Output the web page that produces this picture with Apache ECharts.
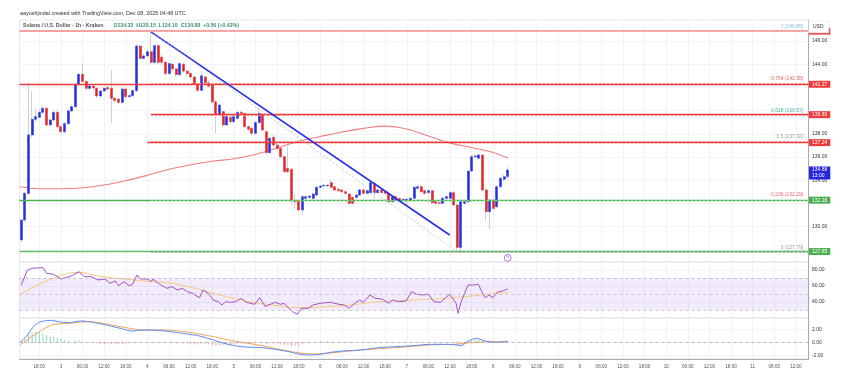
<!DOCTYPE html>
<html><head><meta charset="utf-8">
<script src="https://cdn.jsdelivr.net/npm/echarts@6/dist/echarts.min.js"></script>
<style>html,body{margin:0;padding:0;background:#fff}#c{width:855px;height:379px}</style>
</head><body><div id="c"></div>
<script>
// Time unit: hours since 2025-12-03 00:00 UTC. One candle per hour.
const candleStartHour = -11;
const opens = [
128.85,130.57,132.87,137.90,139.25,139.42,139.85,140.20,138.76,139.19,139.85,
138.62,138.18,138.87,139.97,140.34,142.27,143.13,142.50,141.92,142.10,
141.92,141.26,141.69,141.98,141.92,141.06,141.00,140.71,141.86,141.20,
141.29,141.72,145.57,144.50,144.71,145.08,144.16,145.60,144.60,144.16,
143.20,144.00,143.60,143.10,144.00,143.40,143.20,142.90,142.30,141.75,
142.90,142.40,142.20,140.75,139.68,139.91,138.76,139.42,139.05,139.33,
139.85,139.76,138.62,138.47,138.04,138.96,139.62,138.18,136.37,137.70,
137.03,136.75,136.03,135.02,134.94,132.24,132.15,131.43,132.44,132.52,
132.44,132.72,133.39,133.50,133.50,133.79,133.44,133.21,133.15,133.01,
132.81,132.52,132.52,132.72,133.16,132.87,132.93,133.73,132.93,133.16,
133.01,132.87,132.15,132.58,132.44,132.29,132.29,132.29,132.44,133.30,
133.44,133.10,132.93,133.10,132.15,132.06,132.01,132.44,132.44,132.93,
131.86,128.21,132.01,132.15,134.79,136.03,135.89,136.17,133.16,131.29,
132.29,131.72,133.44,134.08,134.32];
const closes = [
130.57,132.87,137.90,139.25,139.48,139.85,140.20,138.76,139.19,139.85,138.62,
138.18,138.87,139.97,140.34,142.27,143.13,142.50,141.92,142.12,141.95,
141.26,141.69,141.92,141.86,141.06,140.88,140.71,141.86,141.20,141.29,
141.72,145.57,144.50,144.71,145.08,144.16,145.60,144.16,144.16,143.20,
144.05,143.60,143.10,144.05,143.40,143.20,142.90,142.30,141.75,143.00,
142.40,142.10,140.75,139.65,140.48,138.76,139.48,139.05,139.48,139.85,
139.76,138.62,138.39,138.04,138.96,139.76,138.33,136.37,137.61,137.03,
136.75,136.03,134.74,134.74,132.24,132.15,131.43,132.58,132.58,132.64,
132.81,133.39,133.50,133.56,133.56,133.39,133.15,133.10,133.01,132.87,
132.00,132.01,132.72,133.16,132.87,133.10,133.79,132.93,133.16,132.93,
132.87,132.15,132.58,132.29,132.29,132.35,132.35,132.44,133.39,133.44,
133.01,132.87,133.10,132.06,132.01,132.01,132.44,132.58,132.93,131.86,
128.21,132.15,132.15,134.79,136.03,136.09,136.17,133.16,131.29,132.29,
131.57,133.44,134.16,134.30,134.88];
const lows = [
128.70,130.45,132.70,137.70,139.05,139.30,139.70,138.60,138.60,139.10,138.50,
138.04,138.00,138.80,139.90,140.20,142.10,142.40,141.80,141.80,141.80,
141.10,141.10,141.60,141.70,138.90,140.70,140.60,140.60,141.00,141.10,
141.20,141.60,144.40,144.40,144.60,144.00,144.00,144.00,143.90,143.00,
143.10,143.40,142.90,143.00,143.30,143.00,142.70,142.20,141.60,141.70,
142.30,142.00,140.60,138.04,139.60,138.60,138.70,138.90,138.95,139.25,
139.60,138.50,138.25,137.90,137.95,138.90,138.20,136.20,136.30,136.90,
136.60,135.90,134.60,134.60,131.86,131.50,131.30,131.00,132.30,132.40,
132.35,132.60,133.30,133.40,133.40,133.30,133.05,133.00,132.90,132.75,
131.90,131.90,132.40,132.65,132.80,132.80,132.85,132.40,132.85,132.85,
132.80,132.05,132.10,132.20,132.20,132.20,131.90,132.20,132.35,133.20,
132.95,132.75,132.85,131.95,131.90,131.85,131.95,132.35,132.40,131.75,
127.79,127.85,131.90,132.05,134.70,135.90,135.80,133.00,130.50,129.77,
131.40,131.60,133.30,133.95,134.10];
const highs = [
130.65,133.00,142.40,141.70,140.10,140.00,140.40,140.30,139.30,140.00,140.00,
138.70,139.00,140.10,140.50,142.40,143.20,144.07,142.60,142.30,142.20,
142.00,141.80,142.00,142.10,143.50,141.20,141.10,142.00,141.95,141.40,
141.80,145.70,145.65,144.90,145.20,146.85,145.70,145.70,144.80,144.30,
144.15,144.10,143.70,144.15,144.10,143.50,143.30,143.00,142.40,143.40,
143.00,142.60,142.30,140.90,140.60,140.00,139.60,139.55,139.60,139.95,
140.00,139.85,138.70,138.60,139.10,140.20,139.70,138.33,137.80,137.90,
137.20,136.85,136.10,136.90,135.10,132.80,132.30,132.70,132.70,132.75,
132.95,133.50,133.60,133.70,133.65,134.10,133.55,133.30,133.25,133.10,
132.90,132.60,132.80,133.25,133.25,133.20,133.90,133.80,133.25,133.25,
133.10,132.95,132.65,132.65,132.50,132.45,132.45,132.55,133.50,133.60,
133.55,133.20,133.20,133.15,132.20,132.15,132.55,132.70,133.05,133.05,
132.00,132.30,132.30,134.90,136.15,136.25,136.30,136.25,133.30,132.40,
132.40,133.55,134.30,134.45,135.15];

// 100-period moving average (read every 6 hours)
const maHours  = [-11.5,-6,0,6,12,18,24,30,36,42,48,54,60,66,72,78,84,90,96,102,108,114,120,124];
const maValues = [133.43,133.27,133.27,133.35,133.59,133.96,134.42,134.94,135.33,135.64,135.85,136.22,136.78,137.36,137.77,138.16,138.47,138.66,138.41,137.81,137.21,136.82,136.39,135.91];

// RSI(14) and its moving average
const rsiHours  = [-11,-9.3,-7.9,-5,-4,-2,0,1.2,3.1,5,6.5,8.4,10.3,12.2,13.6,15.1,16,17.5,18.9,19.9,21.1,22,24.1,25.1,25.6,27,29.4,30.8,32.3,33.7,35.1,36.6,37.5,38.5,39.4,40.9,42.3,43.7,44.7,45.7,47.1,48.5,50,51.4,53.8,55.2,56.7,58.1,59.5,60.9,61.9,63.3,64.3,65.7,66.7,68.6,70,71.9,74.8,77.2,78.6,80,81.5,82.9,83.9,85.8,87.2,89.1,91,92,93.9,95.8,97.3,98.7,100.6,102,103.5,105.4,106.8,107.8,108.7,109.7,110.2,111.1,113,114.5,115.9,116.8,117.8,118.8,119.9,121.1,122.6,124];
const rsiValues = [61.3,80.0,82.1,82.9,75.8,74.6,68.8,70.4,72.9,77.9,71.7,71.7,67.5,68.8,63.3,66.3,60.4,65.4,60.4,62.1,73.8,68.8,68.8,65.4,68.8,63.3,57.1,59.2,55.0,57.1,52.9,50.8,47.9,45.4,55.0,50.8,42.5,40.4,36.3,40.4,39.6,40.4,44.6,39.6,37.1,45.4,34.2,37.1,39.6,37.1,38.3,32.1,27.9,24.6,32.1,32.1,36.3,38.3,39.6,37.1,36.3,32.1,38.3,42.5,39.6,48.8,44.6,43.8,38.3,42.5,40.4,41.3,52.9,49.6,48.8,49.6,40.4,39.6,45.4,49.6,44.6,38.3,25.8,40.4,61.3,61.3,62.1,52.9,45.4,48.8,45.4,52.1,53.8,56.3];
const rsiMaHours  = [-11.4,-7.4,-2.6,0.3,5,9.8,15.5,23.2,30.8,36.6,42.3,50,58.6,66.2,73.8,80.5,88.2,97.7,107.3,112.1,116.8,124];
const rsiMaValues = [49.6,59.2,68.8,73.8,77.1,72.9,69.6,66.3,63.3,57.9,50.8,42.5,36.3,32.9,34.2,36.3,40.4,42.5,44.6,46.7,48.8,52.1];

// MACD line, signal line, histogram (hourly)
const macdHours  = [-11.3,-9.3,-7.4,-5.5,-2.6,-0.7,2.2,5.5,7.9,11.7,16.5,19.9,21.3,25.1,28.9,33.7,38.5,42.3,45.2,50,55.7,59.5,63.3,66.2,69.1,71.9,74.8,78.6,83.4,88.2,93,97.7,102.5,107.3,109.7,111.1,113,115.4,117.8,120.7,124];
const macdValues = [0,1.12,2.56,3.17,3.38,3.17,3.02,3.28,3.17,2.76,2.15,1.74,1.84,1.89,1.74,1.38,0.97,0.36,-0.15,-0.67,-0.82,-1.08,-1.44,-1.85,-1.95,-1.85,-1.54,-1.33,-1.18,-0.82,-0.67,-0.52,-0.31,-0.31,-0.41,-0.52,0.2,0.61,0.2,0,0.2];
const signalHours  = [-11.3,-7.4,-2.6,2.2,7,11.7,16.5,23.2,28.9,35.6,42.3,48,54.7,61.4,67.2,71,74.8,83.4,93,102.5,109.2,114.9,120.7,124];
const signalValues = [-0.41,1.12,2.66,2.92,3.17,2.92,2.41,1.89,1.89,1.53,0.87,0.2,-0.41,-1.18,-1.7,-1.8,-1.64,-1.18,-0.82,-0.41,-0.31,0,0.1,0];
const histValues = [
0.3,0.7,1.2,1.5,1.7,1.6,1.3,1.1,1.0,0.9,0.7,
0.5,0.3,0.15,0.1,0.2,0.3,0.2,0.05,-0.05,-0.1,
-0.2,-0.25,-0.25,-0.3,-0.3,-0.3,-0.3,-0.25,-0.3,-0.2,
-0.15,0.05,0.05,0.05,0.05,0.05,0.05,0,-0.05,-0.15,
-0.1,-0.15,-0.2,-0.15,-0.2,-0.2,-0.25,-0.3,-0.35,-0.2,
-0.25,-0.3,-0.45,-0.55,-0.45,-0.5,-0.4,-0.35,-0.3,-0.2,
-0.2,-0.25,-0.25,-0.25,-0.1,0,-0.05,-0.3,-0.2,-0.2,
-0.25,-0.3,-0.4,-0.4,-0.6,-0.55,-0.5,-0.3,-0.2,-0.1,
0,0.1,0.15,0.15,0.15,0.15,0.1,0.1,0.05,0.05,
-0.05,-0.05,0,0.05,0.05,0.1,0.15,0.1,0.1,0.05,
0.05,0,0,-0.05,-0.05,-0.05,-0.05,0,0.1,0.1,
0.1,0.05,0.05,0,-0.05,-0.05,0,0,0.05,-0.05,
-0.35,-0.3,-0.1,0.2,0.4,0.45,0.45,0.2,0,-0.05,
-0.1,0,0.05,0.1,0.15];

// Drawn levels
const levelPrices     = [146.85, 142.27, 139.65, 137.24, 132.28, 127.85];
const levelStartHours = [null, null, 25, 24, null, null];
const fibRatios  = ['1', '0.764', '0.618', '0.5', '0.236', '0'];
const fibPrices  = [146.85, 142.35, 139.57, 137.32, 132.29, 127.79];
const fibStartHour = 25;
const trendHours  = [25, 107.9];
const trendPrices = [146.78, 129.28];
const fibDiagHours  = [25, 110];
const fibDiagPrices = [146.85, 127.79];
const tagPrices = [146.85, 142.27, 139.65, 137.24, 134.88, 132.28, 127.85];
const lastPrice = 134.88, countdown = '13:00';
const eventHour = 124, eventPrice = 127.3;

// Axis ticks
const timeTickHours  = [-6,0,6,12,18,24,30,36,42,48,54,60,66,72,78,84,90,96,102,108,114,120,126,132,138,144,150,156,162,168,174,180,186,192,198,204];
const timeTickLabels = ['18:00','3','06:00','12:00','18:00','4','06:00','12:00','18:00','5','06:00','12:00','18:00','6','06:00','12:00','18:00','7','06:00','12:00','18:00','8','06:00','12:00','18:00','9','06:00','12:00','18:00','10','06:00','12:00','18:00','11','06:00','12:00'];
const priceGridValues  = [128,130,132,134,136,138,140,142,144,146];
const priceLabelValues = [146,144,138,136,134,130];
const rsiTickValues  = [40,60,80];
const macdTickValues = [-2,0,2];

// ---------------------------------------------------------------
const FONT = '"Liberation Sans", Arial, sans-serif';
const X_MIN = -11.5, X_MAX = 207.5;
const GL = 19.5, GW = 789;
const RED = '#ef3b3b', GREEN = '#4caf50', BLUE = '#2730e6', GRIDC = '#eef0f4';

const candleRaw = opens.map((o, i) => [candleStartHour + i, o, closes[i], lows[i], highs[i]]);
const bodyData = opens.map((o, i) => [candleStartHour + i, o, closes[i], Math.min(o, closes[i]), Math.max(o, closes[i])]);
const histData = histValues.map((v, i) => [candleStartHour + i, v]);
const zip = (a, b) => a.map((v, i) => [v, b[i]]);

function xAxis(gi) {
  return {
    type: 'value', gridIndex: gi, min: X_MIN, max: X_MAX,
    axisLine: { show: gi === 2, onZero: false, lineStyle: { color: '#9598a1', width: 0.8 } },
    axisTick: { show: false, customValues: timeTickHours },
    axisLabel: {
      show: gi === 2, customValues: timeTickHours,
      formatter: v => timeTickLabels[timeTickHours.indexOf(v)],
      fontSize: 4.6, color: '#555', margin: 5, fontFamily: FONT
    },
    splitLine: { show: true, lineStyle: { color: GRIDC, width: 0.8 } }
  };
}
function yAxis(gi, min, max, ticks, labels) {
  return {
    type: 'value', gridIndex: gi, position: 'right', min: min, max: max,
    axisLine: { show: true, onZero: false, lineStyle: { color: '#9598a1', width: 0.8 } },
    axisTick: { show: false, customValues: ticks },
    axisLabel: { customValues: labels, formatter: v => v.toFixed(2), fontSize: 5, color: '#333', margin: 3.5, fontFamily: FONT },
    splitLine: { show: true, lineStyle: { color: GRIDC, width: 0.8 } }
  };
}

const levelColors = ['#f6a2a2', RED, RED, RED, GREEN, '#66bb6a'];
const levelLines = levelPrices.map((p, i) => {
  const ls = { color: levelColors[i], width: i === 0 ? 2.2 : 1.3, type: 'solid' };
  if (levelStartHours[i] == null) return { yAxis: p, lineStyle: ls, label: { show: false } };
  return [{ coord: [levelStartHours[i], p], lineStyle: ls, label: { show: false } }, { coord: [X_MAX, p] }];
});
const fibLineColors  = ['#f4b2b2', '#f58a8a', '#f58a8a', '#f58a8a', '#8fd08f', '#a9adb5'];
const fibLabelColors = ['#86bfe3', '#e06666', '#45b39d', '#9a9a9a', '#ec6a6a', '#9a9a9a'];
const fibLines = fibPrices.map((p, i) => [
  { coord: [fibStartHour, p], lineStyle: { color: fibLineColors[i], width: 1, type: [2, 2] },
    label: { show: true, position: 'insideEndTop', distance: [5, 2.5], formatter: fibRatios[i] + ' (' + p.toFixed(2) + ')',
             color: fibLabelColors[i], fontSize: 5, fontFamily: FONT } },
  { coord: [X_MAX, p] }
]);
const tagColors = [RED, RED, RED, RED, '#2626dc', GREEN, GREEN];
const tagLines = tagPrices.map((p, i) => ({
  yAxis: p, lineStyle: { color: 'rgba(0,0,0,0)', width: 1, opacity: 1 },
  label: {
    show: true, position: 'end', distance: 0.5, opacity: 1,
    formatter: p === lastPrice ? p.toFixed(2) + '\n' + countdown : p.toFixed(2),
    backgroundColor: tagColors[i], color: '#ffffff', fontSize: 5, lineHeight: 6,
    padding: [0.5, 3, 0.5, 3], fontFamily: FONT,
    offset: p === lastPrice ? [0, 3] : [0, 0]
  }
}));
const trendLines = [
  [{ coord: [trendHours[0], trendPrices[0]], lineStyle: { color: BLUE, width: 1.6, type: 'solid' }, label: { show: false } },
   { coord: [trendHours[1], trendPrices[1]] }],
  [{ coord: [fibDiagHours[0], fibDiagPrices[0]], lineStyle: { color: '#b9bcc4', width: 0.8, type: [2, 2] }, label: { show: false } },
   { coord: [fibDiagHours[1], fibDiagPrices[1]] }]
];

const option = {
  animation: false,
  backgroundColor: '#fff',
  textStyle: { fontFamily: FONT },
  title: [
    { text: 'aayushjindal created with TradingView.com, Dec 08, 2025 04:48 UTC', left: 20, top: 10, padding: 0,
      textStyle: { fontSize: 5.4, fontWeight: 'normal', color: '#333', fontFamily: FONT, lineHeight: 7 } },
    { text: '{a|Solana / U.S. Dollar · 1h · Kraken}  {b|O134.32  H135.15  L134.10  C134.88  +0.56 (+0.42%)}', left: 23, top: 22, padding: 0,
      textStyle: { lineHeight: 7, rich: { a: { fontSize: 5.2, color: '#555', fontFamily: FONT, lineHeight: 7 }, b: { fontSize: 5.2, color: '#3b8f6f', fontFamily: FONT, lineHeight: 7 } } } }
  ],
  grid: [
    { left: GL, width: GW, top: 20, height: 242, show: true, borderColor: '#e0e3eb', borderWidth: 0.8 },
    { left: GL, width: GW, top: 262, height: 56, show: true, borderColor: '#e0e3eb', borderWidth: 0.8 },
    { left: GL, width: GW, top: 318, height: 41, show: true, borderColor: '#e0e3eb', borderWidth: 0.8 }
  ],
  xAxis: [xAxis(0), xAxis(1), xAxis(2)],
  yAxis: [
    yAxis(0, 126.95, 147.81, priceGridValues, priceLabelValues),
    yAxis(1, 20, 90, rsiTickValues, rsiTickValues),
    yAxis(2, -2.57, 3.74, macdTickValues, macdTickValues)
  ],
  graphic: [
    { type: 'rect', left: 808.5, top: 20.5, z: 1000, zlevel: 1, shape: { width: 20, height: 12 },
      style: { fill: '#fff', stroke: '#e0e3eb', lineWidth: 0.6 } },
    { type: 'text', left: 813, top: 24, z: 1001, zlevel: 1,
      style: { text: 'USD', fontSize: 5, fill: '#333', fontFamily: FONT } }
  ],
  series: [
    { type: 'line', name: 'MA', xAxisIndex: 0, yAxisIndex: 0, data: zip(maHours, maValues), smooth: 0.4,
      symbol: 'none', lineStyle: { color: '#f47c80', width: 1.1 }, z: 2 },
    { type: 'line', name: 'levels', xAxisIndex: 0, yAxisIndex: 0, data: [], clip: false, z: 6,
      markLine: { silent: true, symbol: ['none', 'none'], animation: false,
        data: [].concat(levelLines, fibLines, trendLines) } },
    { type: 'line', name: 'tags', xAxisIndex: 0, yAxisIndex: 0, data: [], clip: false, z: 20,
      markLine: { silent: true, symbol: ['none', 'none'], animation: false, data: tagLines } },
    { type: 'candlestick', name: 'wick', xAxisIndex: 0, yAxisIndex: 0, data: candleRaw, encode: { x: 0, y: [1, 2, 3, 4] },
      barWidth: 0.7, itemStyle: { color: '#b8bcc4', color0: '#b8bcc4', borderColor: '#b8bcc4', borderColor0: '#b8bcc4', borderWidth: 0.7 }, z: 3 },
    { type: 'candlestick', name: 'body', xAxisIndex: 0, yAxisIndex: 0, data: bodyData, encode: { x: 0, y: [1, 2, 3, 4] },
      barWidth: 2.5, itemStyle: { color: '#2430e0', color0: '#e0262b', borderColor: '#2430e0', borderColor0: '#e0262b', borderWidth: 0.5 }, z: 4 },
    { type: 'scatter', xAxisIndex: 0, yAxisIndex: 0, data: [[eventHour, eventPrice]], symbol: 'circle', symbolSize: 7,
      itemStyle: { color: '#fff', borderColor: '#a05ad2', borderWidth: 1 },
      label: { show: true, position: 'inside', formatter: 'ϟ', fontSize: 5, color: '#a05ad2' }, z: 5 },
    { type: 'line', name: 'RSI', xAxisIndex: 1, yAxisIndex: 1, data: zip(rsiHours, rsiValues), symbol: 'none',
      lineStyle: { color: '#a550c6', width: 1 }, z: 4,
      markArea: { silent: true, itemStyle: { color: 'rgba(150, 90, 220, 0.12)' }, data: [[{ yAxis: 70 }, { yAxis: 30 }]] },
      markLine: { silent: true, symbol: ['none', 'none'], label: { show: false },
        lineStyle: { color: '#b7b3c6', width: 0.7, type: [3, 3] }, data: [{ yAxis: 70 }, { yAxis: 50 }, { yAxis: 30 }] } },
    { type: 'line', name: 'RSI MA', xAxisIndex: 1, yAxisIndex: 1, data: zip(rsiMaHours, rsiMaValues), symbol: 'none', smooth: 0.4,
      lineStyle: { color: '#f7c97e', width: 1 }, z: 3 },
    { type: 'bar', name: 'Hist', xAxisIndex: 2, yAxisIndex: 2, data: histData, barWidth: 0.8,
      itemStyle: { color: p => p.value[1] >= 0 ? '#93d4c6' : '#f5a3a3' }, z: 2,
      markLine: { silent: true, symbol: ['none', 'none'], label: { show: false },
        lineStyle: { color: '#a0a3ab', width: 0.7, type: [3, 3] }, data: [{ yAxis: 0 }] } },
    { type: 'line', name: 'MACD', xAxisIndex: 2, yAxisIndex: 2, data: zip(macdHours, macdValues), symbol: 'none', smooth: 0.3,
      lineStyle: { color: '#5b8cf2', width: 1 }, z: 4 },
    { type: 'line', name: 'Signal', xAxisIndex: 2, yAxisIndex: 2, data: zip(signalHours, signalValues), symbol: 'none', smooth: 0.3,
      lineStyle: { color: '#f6a25e', width: 1 }, z: 3 }
  ]
};
const chart = echarts.init(document.getElementById('c'));
chart.setOption(option);
</script></body></html>
